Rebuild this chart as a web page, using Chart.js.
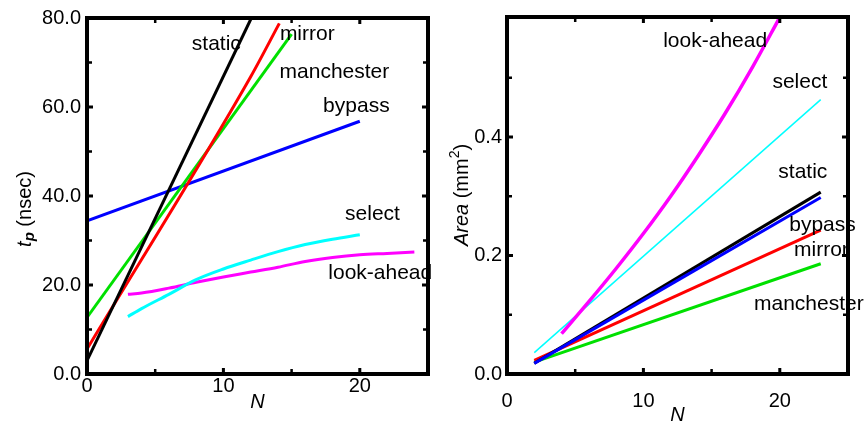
<!DOCTYPE html>
<html><head><meta charset="utf-8">
<script src="https://cdn.jsdelivr.net/npm/chart.js@4.4.0/dist/chart.umd.min.js"></script>
<style>
html,body{margin:0;padding:0;background:#fff;}
#wrap{position:relative;width:865px;height:423px;overflow:hidden;background:#fff;}
canvas{position:absolute;top:0;}
</style></head><body>
<div id="wrap">
<canvas id="c1" width="440" height="423" style="left:0px;width:440px;height:423px"></canvas>
<canvas id="c2" width="425" height="423" style="left:440px;width:425px;height:423px"></canvas>
</div>
<script>
const FONT = '"Liberation Sans", Arial, Helvetica, sans-serif';

// ---- Left panel: t_p (nsec) vs N ----
const leftStaticN = [0, 12.05];
const leftStaticT = [3.0, 80.0];
const leftMirrorN = [0, 12, 14.1];
const leftMirrorT = [5.6, 66.8, 78.8];
const leftManchesterN = [0, 15];
const leftManchesterT = [12.7, 76.4];
const leftBypassN = [0, 20];
const leftBypassT = [34.4, 56.8];
const leftSelectN = [3, 4, 6, 8, 10, 12, 14, 16, 18, 20];
const leftSelectT = [12.9, 14.7, 17.9, 21.2, 23.6, 25.6, 27.5, 29.1, 30.3, 31.3];
const leftLookN = [3, 4, 6, 8, 10, 12, 14, 16, 18, 20, 22, 24];
const leftLookT = [17.9, 18.2, 19.3, 20.6, 21.8, 22.9, 24.0, 25.3, 26.2, 26.8, 27.1, 27.4];
const leftXTicks = [0, 10, 20];
const leftYTicks = [0, 20, 40, 60, 80];
const leftXMarks = [5, 10, 15, 20];
const leftYMarks = [10, 20, 30, 40, 50, 60, 70];
const leftLabels = ['static', 'mirror', 'manchester', 'bypass', 'select', 'look-ahead'];
const leftLabelN = [9.48, 16.15, 18.14, 19.75, 20.93, 21.5];
const leftLabelT = [74.2, 76.4, 67.8, 60.2, 35.8, 22.7];

// ---- Right panel: Area (mm^2) vs N ----
const rightLookN = [4, 6, 8, 10, 12, 14, 16, 18, 20];
const rightLookA = [0.068, 0.122, 0.178, 0.237, 0.300, 0.368, 0.440, 0.518, 0.602];
const rightSelectN = [2, 23];
const rightSelectA = [0.036, 0.463];
const rightStaticN = [2, 23];
const rightStaticA = [0.018, 0.307];
const rightBypassN = [2, 23];
const rightBypassA = [0.018, 0.298];
const rightMirrorN = [2, 23];
const rightMirrorA = [0.023, 0.243];
const rightManchesterN = [2, 23];
const rightManchesterA = [0.020, 0.186];
const rightXTicks = [0, 10, 20];
const rightYTicks = [0, 0.2, 0.4];
const rightXMarks = [5, 10, 15, 20];
const rightYMarks = [0.1, 0.2, 0.3, 0.4, 0.5];
const rightLabels = ['look-ahead', 'select', 'static', 'bypass', 'mirror', 'manchester'];
const rightLabelN = [15.26, 21.47, 21.69, 23.13, 23.05, 22.13];
const rightLabelA = [0.561, 0.492, 0.341, 0.251, 0.209, 0.117];

const pts = (xs, ys) => xs.map((x, i) => ({x: x, y: ys[i]}));
const ds = (xs, ys, color, w) => ({
  data: pts(xs, ys), borderColor: color, backgroundColor: color, borderWidth: w,
  pointRadius: 0, fill: false, cubicInterpolationMode: 'monotone'
});

function decor(o) {
  return {
    id: 'decor',
    afterDatasetsDraw(chart) {
      const ctx = chart.ctx, xs = chart.scales.x, ys = chart.scales.y, a = chart.chartArea;
      ctx.save();
      ctx.fillStyle = '#000';
      ctx.font = '21px ' + FONT;
      ctx.textAlign = 'center';
      ctx.textBaseline = 'middle';
      o.labels.forEach((t, i) => ctx.fillText(t, xs.getPixelForValue(o.labelX[i]), ys.getPixelForValue(o.labelY[i])));
      // frame
      ctx.strokeStyle = '#000';
      ctx.lineWidth = 4;
      ctx.strokeRect(a.left, a.top, a.right - a.left, a.bottom - a.top);
      ctx.lineCap = 'butt';
      o.xMarks.forEach(v => {
        const p = xs.getPixelForValue(v);
        const major = o.xTicks.includes(v);
        ctx.lineWidth = major ? 3 : 2.5;
        const L = major ? 6 : 5;
        ctx.beginPath();
        ctx.moveTo(p, a.bottom); ctx.lineTo(p, a.bottom - L);
        ctx.moveTo(p, a.top); ctx.lineTo(p, a.top + L);
        ctx.stroke();
      });
      o.yMarks.forEach(v => {
        const p = ys.getPixelForValue(v);
        const major = o.yTicks.some(t => Math.abs(t - v) < 1e-9);
        ctx.lineWidth = major ? 3 : 2.5;
        const L = major ? 6 : 5;
        ctx.beginPath();
        ctx.moveTo(a.left, p); ctx.lineTo(a.left + L, p);
        ctx.moveTo(a.right, p); ctx.lineTo(a.right - L, p);
        ctx.stroke();
      });
      // x title
      ctx.font = 'italic 20px ' + FONT;
      ctx.textAlign = 'center';
      ctx.textBaseline = 'middle';
      ctx.fillText('N', (a.left + a.right) / 2, o.xTitleY);
      // y title
      ctx.translate(o.yTitleX, o.yTitleY);
      ctx.rotate(-Math.PI / 2);
      ctx.textAlign = 'left';
      ctx.textBaseline = 'middle';
      let total = 0;
      o.yTitle.forEach(p => { ctx.font = p.f; total += ctx.measureText(p.t).width; });
      let x = -total / 2;
      o.yTitle.forEach(p => {
        ctx.font = p.f;
        ctx.fillText(p.t, x, p.dy || 0);
        x += ctx.measureText(p.t).width;
      });
      ctx.restore();
    }
  };
}

function scales(xTicks, yTicks, ymax, yWidth, xPad, yPad) {
  return {
    x: {
      type: 'linear', min: 0, max: 25,
      grid: {display: false, drawTicks: false}, border: {display: false},
      afterBuildTicks: s => { s.ticks = xTicks.map(v => ({value: v})); },
      afterFit: s => { s.height = 49; },
      ticks: {font: {family: FONT, size: 20}, color: '#000', padding: xPad, maxRotation: 0, autoSkip: false,
              callback: v => String(v)}
    },
    y: {
      type: 'linear', min: 0, max: ymax,
      grid: {display: false, drawTicks: false}, border: {display: false},
      afterBuildTicks: s => { s.ticks = yTicks.map(v => ({value: v})); },
      afterFit: s => { s.width = yWidth; },
      ticks: {font: {family: FONT, size: 20}, color: '#000', padding: yPad, autoSkip: false,
              callback: v => v.toFixed(1)}
    }
  };
}

const common = {
  responsive: false, animation: false, devicePixelRatio: 1,
  plugins: {legend: {display: false}, tooltip: {enabled: false}, title: {display: false}}
};

new Chart(document.getElementById('c1'), {
  type: 'line',
  data: {datasets: [
    ds(leftStaticN, leftStaticT, '#000000', 3),
    ds(leftMirrorN, leftMirrorT, '#ff0000', 3),
    ds(leftManchesterN, leftManchesterT, '#00e000', 3),
    ds(leftBypassN, leftBypassT, '#0000ff', 3),
    ds(leftSelectN, leftSelectT, '#00ffff', 3),
    ds(leftLookN, leftLookT, '#ff00ff', 3)
  ]},
  options: Object.assign({}, common, {
    layout: {padding: {left: 0, right: 12, top: 14, bottom: 0}},
    scales: scales(leftXTicks, leftYTicks, 80, 87, 0, 6)
  }),
  plugins: [decor({
    labels: leftLabels, labelX: leftLabelN, labelY: leftLabelT,
    xTicks: leftXTicks, yTicks: leftYTicks, xMarks: leftXMarks, yMarks: leftYMarks,
    xTitleY: 402, yTitleX: 25, yTitleY: 209,
    yTitle: [
      {t: 't', f: 'italic 20px ' + FONT},
      {t: 'p', f: 'bold italic 15px ' + FONT, dy: 5},
      {t: ' (nsec)', f: '20px ' + FONT}
    ]
  })]
});

new Chart(document.getElementById('c2'), {
  type: 'line',
  data: {datasets: [
    ds(rightLookN, rightLookA, '#ff00ff', 3.5),
    ds(rightSelectN, rightSelectA, '#00ffff', 1.5),
    ds(rightBypassN, rightBypassA, '#0000ff', 3),
    ds(rightStaticN, rightStaticA, '#000000', 3),
    ds(rightMirrorN, rightMirrorA, '#ff0000', 3),
    ds(rightManchesterN, rightManchesterA, '#00e000', 3)
  ]},
  options: Object.assign({}, common, {
    layout: {padding: {left: 0, right: 17, top: 14, bottom: 0}},
    scales: scales(rightXTicks, rightYTicks, 0.6025, 67, 15, 5)
  }),
  plugins: [decor({
    labels: rightLabels, labelX: rightLabelN, labelY: rightLabelA,
    xTicks: rightXTicks, yTicks: rightYTicks, xMarks: rightXMarks, yMarks: rightYMarks,
    xTitleY: 415, yTitleX: 22, yTitleY: 195,
    yTitle: [
      {t: 'Area', f: 'italic 20px ' + FONT},
      {t: ' (mm', f: '20px ' + FONT},
      {t: '2', f: '14px ' + FONT, dy: -7},
      {t: ')', f: '20px ' + FONT}
    ]
  })]
});
</script>
</body></html>
